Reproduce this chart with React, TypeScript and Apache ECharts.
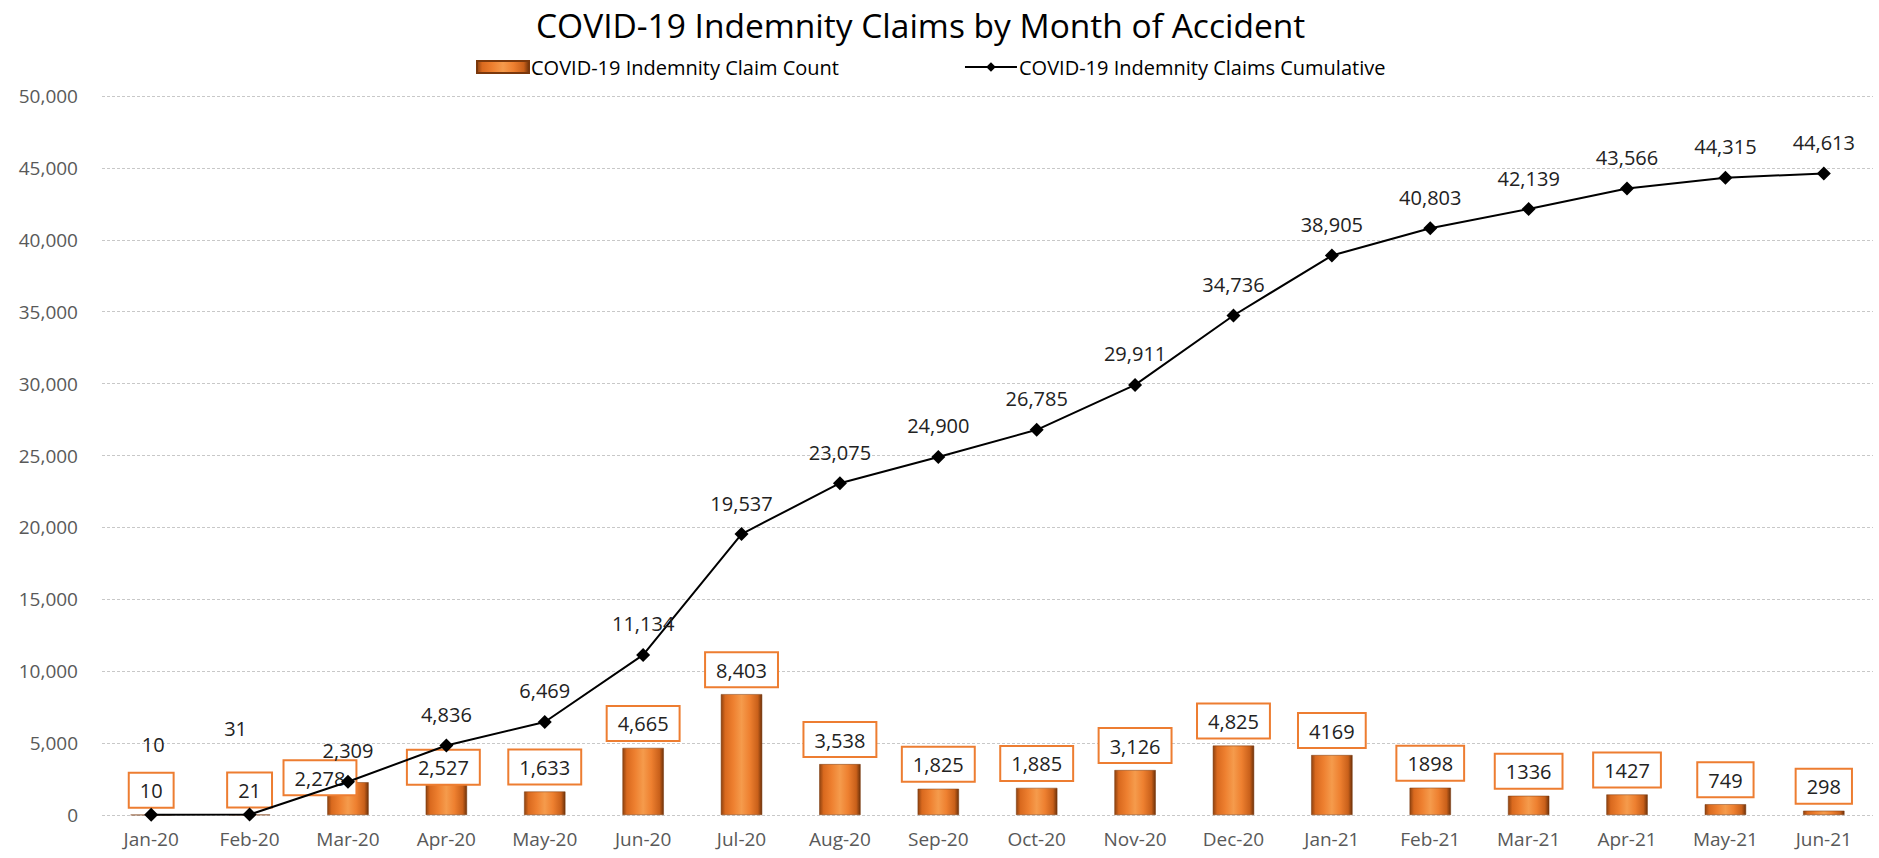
import React, { useEffect, useRef } from "react";
import * as echarts from "echarts";

const titleText = "COVID-19 Indemnity Claims by Month of Accident";
const countName = "COVID-19 Indemnity Claim Count";
const cumulativeName = "COVID-19 Indemnity Claims Cumulative";

const categories = [
  "Jan-20", "Feb-20", "Mar-20", "Apr-20", "May-20", "Jun-20", "Jul-20", "Aug-20", "Sep-20",
  "Oct-20", "Nov-20", "Dec-20", "Jan-21", "Feb-21", "Mar-21", "Apr-21", "May-21", "Jun-21",
];
const claimCounts = [10, 21, 2278, 2527, 1633, 4665, 8403, 3538, 1825, 1885, 3126, 4825, 4169, 1898, 1336, 1427, 749, 298];
const claimCountLabels = [
  "10", "21", "2,278", "2,527", "1,633", "4,665", "8,403", "3,538", "1,825",
  "1,885", "3,126", "4,825", "4169", "1898", "1336", "1427", "749", "298",
];
const cumulativeClaims = [10, 31, 2309, 4836, 6469, 11134, 19537, 23075, 24900, 26785, 29911, 34736, 38905, 40803, 42139, 43566, 44315, 44613];

const yMin = 0;
const yMax = 50000;
const yInterval = 5000;

const FONT = "'Open Sans', sans-serif";

const barGradient = new echarts.graphic.LinearGradient(0, 0, 1, 0, [
  { offset: 0, color: "#8E4210" },
  { offset: 0.1, color: "#D9691E" },
  { offset: 0.3, color: "#EE8030" },
  { offset: 0.5, color: "#F59B4C" },
  { offset: 0.7, color: "#EE8030" },
  { offset: 0.9, color: "#C9601A" },
  { offset: 1, color: "#6E320A" },
]);

export default function App() {
  const ref = useRef<HTMLDivElement>(null);

  useEffect(() => {
    if (!ref.current) return;
    const chart = echarts.init(ref.current, null, { renderer: "svg" });

    const fmt = (v: number) => v.toLocaleString("en-US");

    const barData = claimCounts.map((v, i) => {
      const item: any = { value: v };
      if (i === 2) item.label = { offset: [-28, 20] };
      if (i === 3) item.label = { offset: [-3, 13] };
      return item;
    });

    const lineData = cumulativeClaims.map((v, i) => {
      const item: any = { value: v };
      if (i === 0) item.label = { offset: [2, -39] };
      if (i === 1) item.label = { offset: [-14, -55] };
      return item;
    });

    chart.setOption({
      animation: false,
      backgroundColor: "#ffffff",
      textStyle: { fontFamily: FONT },
      title: {
        text: titleText,
        left: 536,
        top: 5,
        padding: 0,
        textStyle: { fontFamily: FONT, fontSize: 33.5, fontWeight: "normal", color: "#000000", lineHeight: 40 },
      },
      legend: {
        top: 57,
        left: 476,
        padding: 0,
        itemWidth: 52,
        itemHeight: 12,
        itemGap: 125,
        textStyle: { fontFamily: FONT, fontSize: 20, color: "#000000", padding: [0, 0, 0, -3] },
        data: [
          { name: countName, icon: "rect", itemStyle: { color: barGradient } },
          { name: cumulativeName },
        ],
      },
      grid: { left: 102, right: 6, top: 96, bottom: 43, containLabel: false },
      xAxis: {
        type: "category",
        data: categories,
        axisLine: { show: false },
        axisTick: { show: false },
        axisLabel: { fontFamily: FONT, fontSize: 19, color: "#595959", margin: 14 },
      },
      yAxis: {
        type: "value",
        min: yMin,
        max: yMax,
        interval: yInterval,
        axisLine: { show: false },
        axisTick: { show: false },
        axisLabel: {
          fontFamily: FONT,
          fontSize: 19,
          color: "#595959",
          margin: 24,
          formatter: (v: number) => fmt(v),
        },
        splitLine: { lineStyle: { color: "#C8C8C8", type: [3, 2], width: 1 } },
      },
      series: [
        {
          name: countName,
          type: "bar",
          data: barData,
          barWidth: "42%",
          itemStyle: { color: barGradient, borderColor: "#7A380C", borderWidth: 0.5 },
          label: {
            show: true,
            position: "top",
            distance: 8,
            formatter: (p: any) => claimCountLabels[p.dataIndex],
            fontFamily: FONT,
            fontSize: 20,
            color: "#222222",
            backgroundColor: "#ffffff",
            borderColor: "#ED7D31",
            borderWidth: 2,
            padding: [7, 10, 6, 10],
          },
          z: 2,
        },
        {
          name: cumulativeName,
          type: "line",
          data: lineData,
          symbol: "diamond",
          symbolSize: 14,
          itemStyle: { color: "#000000" },
          lineStyle: { color: "#000000", width: 2 },
          label: {
            show: true,
            position: "top",
            distance: 14,
            formatter: (p: any) => fmt(p.value),
            fontFamily: FONT,
            fontSize: 20,
            color: "#222222",
          },
          z: 3,
        },
      ],
    });

    return () => chart.dispose();
  }, []);

  return (
    <div
      ref={ref}
      style={{ position: "absolute", left: 0, top: 0, width: 1879, height: 858 }}
    />
  );
}
